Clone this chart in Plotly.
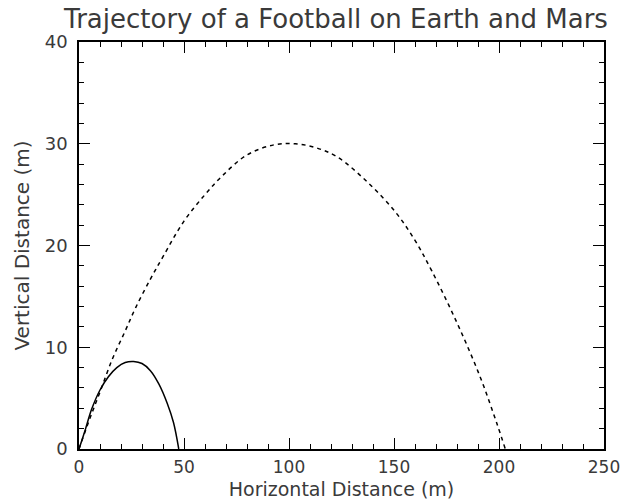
import plotly.graph_objects as go

# Data
earth_x = [0, 3, 6, 10, 14, 18, 22, 26, 30, 34, 38, 42, 45, 47.5]
earth_y = [0, 1.9, 3.9, 5.8, 7.1, 8.0, 8.5, 8.6, 8.4, 7.7, 6.4, 4.5, 2.6, 0]

mars_x = [0, 5, 10, 16, 22, 27, 34, 40, 50, 60, 68, 80, 93, 103, 113, 123,
          138, 151, 160, 168, 180, 191, 199, 203]
mars_y = [0, 2.9, 5.6, 8.9, 11.6, 13.9, 16.7, 18.9, 22.4, 25.0, 26.8, 28.9,
          29.9, 30.0, 29.6, 28.7, 26.1, 23.2, 20.5, 17.5, 12.4, 7.1, 2.5, 0]

title_text = "Trajectory of a Football on Earth and Mars"
x_title = "Horizontal Distance (m)"
y_title = "Vertical Distance (m)"

FONT = "DejaVu Sans"
INK = "#3a3a3a"

fig = go.Figure()
fig.add_trace(go.Scatter(x=earth_x, y=earth_y, mode="lines",
                         line=dict(color="black", width=1.5, shape="spline"),
                         showlegend=False))
fig.add_trace(go.Scatter(x=mars_x, y=mars_y, mode="lines",
                         line=dict(color="black", width=1.5, dash="4px,4px",
                                   shape="spline"),
                         showlegend=False))

axis_common = dict(
    showgrid=False, zeroline=False, showline=True, linecolor="black",
    linewidth=1.5, mirror="allticks", ticks="inside", ticklen=11,
    tickwidth=1.2, tickcolor="black",
)

fig.update_xaxes(range=[0, 250], dtick=50, tick0=0, ticklabelstandoff=2,
                 tickfont=dict(family=FONT, size=17, color=INK),
                 minor=dict(ticks="inside", ticklen=5, dtick=10, tickcolor="black", tickwidth=1.2),
                 title=dict(text=x_title, font=dict(family=FONT, size=19, color=INK), standoff=10),
                 **axis_common)
fig.update_yaxes(range=[0, 40], dtick=10, tick0=0, ticklabelstandoff=6,
                 tickfont=dict(family=FONT, size=18, color=INK),
                 minor=dict(ticks="inside", ticklen=5, dtick=2, tickcolor="black", tickwidth=1.2),
                 title=dict(text=y_title, font=dict(family=FONT, size=20, color=INK), standoff=10),
                 **axis_common)

fig.update_layout(
    width=625, height=500,
    margin=dict(l=79, r=21, t=42, b=51, autoexpand=False),
    paper_bgcolor="white", plot_bgcolor="white",
    title=dict(text=title_text, x=0.5376, xanchor="center", y=0.963, yanchor="middle",
               font=dict(family=FONT, size=26, color=INK)),
)

fig.write_html(
    "out.html",
    config={"displayModeBar": False},
    post_script="document.body.style.margin='0';document.body.style.overflow='hidden';",
)
